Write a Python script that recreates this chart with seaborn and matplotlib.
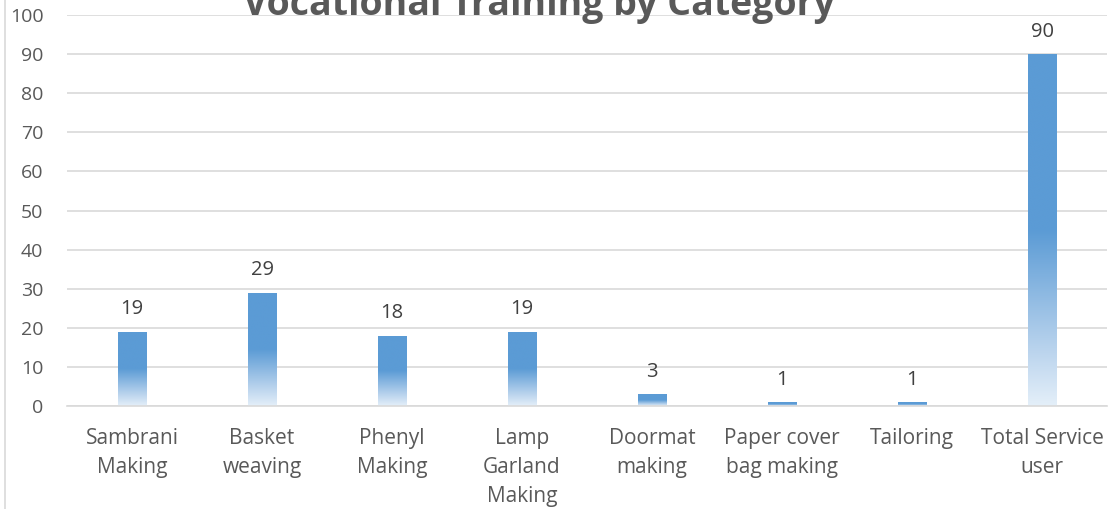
import numpy as np
import pandas as pd
import seaborn as sns
import matplotlib.pyplot as plt
from matplotlib.colors import LinearSegmentedColormap
from matplotlib.lines import Line2D

# 数据
categories = ['Sambrani\nMaking', 'Basket\nweaving', 'Phenyl\nMaking', 'Lamp\nGarland\nMaking',
              'Doormat\nmaking', 'Paper cover\nbag making', 'Tailoring', 'Total Service\nuser']
values = [19, 29, 18, 19, 3, 1, 1, 90]
title = 'Vocational Training by Category'

sns.set_style('white')
plt.rcParams['font.family'] = ['Open Sans', 'DejaVu Sans']

df = pd.DataFrame({'cat': categories, 'val': values})

fig = plt.figure(figsize=(11.08, 5.09), dpi=100)
ax = fig.add_axes([67 / 1108, 103 / 509, 1040 / 1108, 391 / 509])
sns.barplot(data=df, x='cat', y='val', width=0.22, color='#5B9BD5', ax=ax, zorder=2)

# 渐变填充
cmap = LinearSegmentedColormap.from_list('grad', [(0, '#E4EFF9'), (0.15, '#BCD5EE'), (0.5, '#5B9BD5'), (1, '#5B9BD5')])
grad = np.linspace(0, 1, 256).reshape(-1, 1)
for p in ax.patches:
    x0, y0, w, h = p.get_x(), p.get_y(), p.get_width(), p.get_height()
    im = ax.imshow(grad, cmap=cmap, origin='lower', extent=[x0, x0 + w, y0, y0 + h],
                   aspect='auto', zorder=2, interpolation='bilinear')
    im.set_clip_path(p)
    p.set_facecolor('none')
    p.set_edgecolor('none')

for i, v in enumerate(values):
    ax.annotate(str(v), (i, v), xytext=(0, 16), textcoords='offset points',
                ha='center', va='center', fontsize=14.5, color='#404040')

ax.set_xlim(-0.5, 7.5)
ax.set_ylim(0, 100)
ax.set_yticks(range(0, 101, 10))
ax.yaxis.grid(True, color='#D9D9D9', linewidth=1.2, zorder=0)
ax.set_axisbelow(True)
for s in ['top', 'right', 'left']:
    ax.spines[s].set_visible(False)
ax.spines['bottom'].set_color('#D9D9D9')
ax.spines['bottom'].set_linewidth(1.2)
ax.tick_params(axis='both', length=0, colors='#595959')
ax.tick_params(axis='y', pad=17, labelsize=14)
ax.tick_params(axis='x', pad=16, labelsize=15)
for t in ax.get_xticklabels():
    t.set_linespacing(1.5)
    t.set_va('top')
ax.set_xlabel('')
ax.set_ylabel('')

fig.text(539 / 1108, 1 - 15 / 509, title, ha='center', va='baseline',
         fontsize=27, fontweight='bold', color='#595959')
fig.add_artist(Line2D([5 / 1108, 5 / 1108], [0, 1], color='#D9D9D9', linewidth=1.2))

fig.savefig('out.png', dpi=100)
